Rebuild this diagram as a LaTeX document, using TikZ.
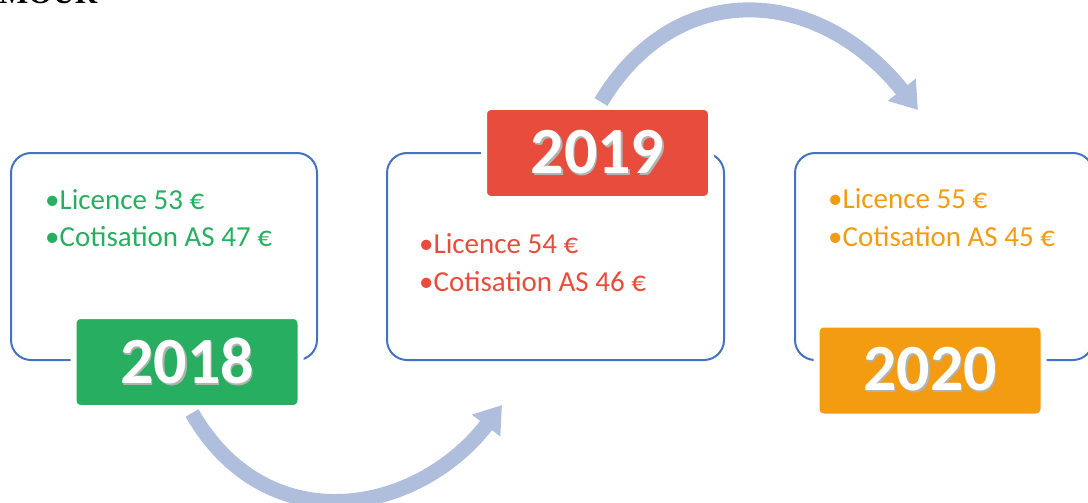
\documentclass[tikz,border=0pt]{standalone}
\usepackage{fontspec}
\setmainfont{Carlito}
\newfontfamily\headfont{Liberation Serif}
\usetikzlibrary{arrows.meta,positioning}
\definecolor{boxblue}{RGB}{68,114,196}
\definecolor{arrowblue}{RGB}{176,190,222}
\definecolor{green18}{RGB}{39,174,96}
\definecolor{red19}{RGB}{231,76,60}
\definecolor{orange20}{RGB}{243,156,18}
\tikzset{%
    yearbox/.style={%
        draw=boxblue, line width=2pt, rounded corners=20pt,
        minimum height=207pt, inner sep=0pt
    },
    yearlabel/.style={%
        draw=white, line width=6pt, rounded corners=7pt, text=white,
        minimum width=227pt, minimum height=92pt, inner sep=0pt,
        font=\fontsize{66}{72}\selectfont\bfseries
    },
    info/.style={%
        anchor=base west, inner sep=0pt,
        font=\fontsize{29}{34}\selectfont
    },
    curvedarrow/.style={%
        draw=arrowblue, line width=15pt,
        -{Triangle[length=26pt,width=34pt]}
    }
}
\newcommand{\shadowed}[1]{\rlap{\hspace{1.5pt}\raisebox{-2pt}{\color{black!30}#1}}#1}

\begin{document}
\begin{tikzpicture}[x=1pt,y=-1pt]
    \useasboundingbox (0,0) rectangle (1088,503);

    \node[anchor=base west, inner sep=0pt, font=\headfont\bfseries\fontsize{31}{34}\selectfont]
        (head) at (-1,4) {MOUR};

    % boxes
    \node[yearbox, minimum width=306pt] (box18) at (164,256.5) {};
    \node[yearbox, minimum width=337pt] (box19) at (555.5,256.5) {};
    \node[yearbox, minimum width=298pt] (box20) at (944,256.5) {};

    \node[info, text=green18] (lic18) at (45,209) {•Licence 53 €};
    \node[info, text=green18] (cot18) at (45,246) {•Cotisation AS 47 €};
    \node[info, text=red19] (lic19) at (419,253) {•Licence 54 €};
    \node[info, text=red19] (cot19) at (419,291) {•Cotisation AS 46 €};
    \node[info, text=orange20] (lic20) at (828,208) {•Licence 55 €};
    \node[info, text=orange20] (cot20) at (828,246) {•Cotisation AS 45 €};

    % year labels
    \node[yearlabel, fill=green18] (lab18) at (187,362) {\shadowed{2018}};
    \node[yearlabel, fill=red19] (lab19) at (597.5,153) {\shadowed{2019}};
    \node[yearlabel, fill=orange20] (lab20) at (930,370.5) {\shadowed{2020}};

    % arrows
    \coordinate (tip18) at (502,405);
    \coordinate (tip19) at (918,110);
    \draw[curvedarrow] ([xshift=5pt,yshift=-2pt]lab18.south)
        .. controls +(75,130) and +(-85,110) .. (tip18);
    \draw[curvedarrow] ([xshift=3.5pt,yshift=2pt]lab19.north)
        .. controls +(75,-125) and +(-100,-125) .. (tip19);
\end{tikzpicture}
\end{document}
